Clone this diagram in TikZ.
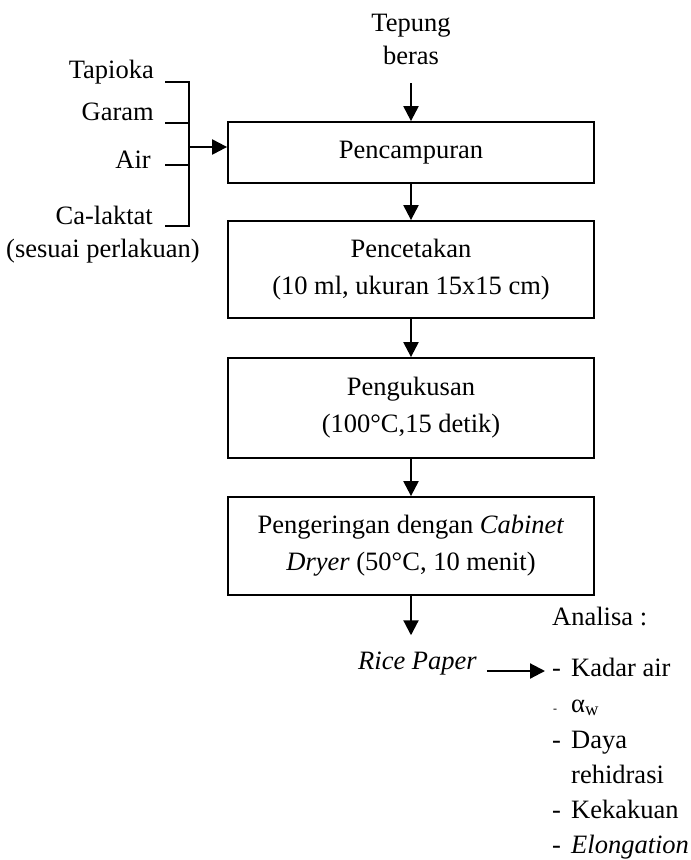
\documentclass[tikz,border=0pt]{standalone}
\usepackage{fontspec}
\setmainfont{Liberation Serif}
\usetikzlibrary{arrows.meta,positioning}

\tikzset{
  stepbox/.style={draw, line width=1.8pt, minimum width=366pt, inner sep=0pt, align=center},
  flow/.style={-{Triangle[length=15pt,width=15pt]}, line width=2.2pt},
  bracket/.style={line width=1.3pt},
  lbl/.style={inner sep=0pt},
}

\begin{document}
\begin{tikzpicture}[x=1pt,y=-1pt,font=\fontsize{26.5}{37}\selectfont]
        \useasboundingbox (0,0) rectangle (691,860);

        % process steps
        \node[stepbox, minimum height=61pt] (mix) at (411,152.5) {Pencampuran};
        \node[stepbox, minimum height=97pt] (mould) at (411,269.5) {Pencetakan\\(10 ml, ukuran 15x15 cm)};
        \node[stepbox, minimum height=100pt] (steam) at (411,408) {Pengukusan\\(100°C,15 detik)};
        \node[stepbox, minimum height=98pt] (dry) at (411,546) {Pengeringan dengan \textit{Cabinet}\\\textit{Dryer} (50°C, 10 menit)};
        \draw[flow] (mix) -- (mould);
        \draw[flow] (mould) -- (steam);
        \draw[flow] (steam) -- (dry);

        % rice flour input
        \node[lbl, align=center, anchor=north] (flour) at (411,14) {Tepung\\[-4pt]beras};
        \draw[flow] ([yshift=-18pt]flour.south) -- (mix.north);

        % other ingredients
        \node[lbl, anchor=base east] (tap) at (154,78) {Tapioka};
        \node[lbl, anchor=base east] (gar) at (154,120) {Garam};
        \node[lbl, anchor=base east] (air) at (151,168) {Air};
        \node[lbl, anchor=base east] (ca) at (153,224) {Ca-laktat};
        \node[lbl, anchor=base] (treat) at (103,257) {(sesuai perlakuan)};
        \coordinate (tapend) at (165,82);
        \coordinate (garend) at (165,123);
        \coordinate (airend) at (165,165);
        \coordinate (caend) at (165,226);
        \draw[bracket] (tapend) -- ++(24,0) |- (caend);
        \draw[bracket] (garend) -- ++(24,0);
        \draw[bracket] (airend) -- ++(24,0);
        \coordinate (feed) at (190,147);
        \draw[flow] (feed) -- (feed -| mix.west);

        % product
        \node[lbl, anchor=base] (rice) at (417.5,669) {\textit{Rice Paper}};
        \draw[flow] (dry.south) -- ([yshift=16pt]rice.north -| dry.south);

        % analyses
        \node[lbl, anchor=base west] (ana) at (552,625) {Analisa :};
        \node[lbl, anchor=base west] (kadar) at (552,676) {-};
        \node[lbl, anchor=base west] at (571,676) {Kadar air};
        \node[lbl, anchor=base west] (aw) at (553,712) {\fontsize{12}{12}\selectfont -};
        \node[lbl, anchor=base west] at (571,712) {α\textsubscript{w}};
        \node[lbl, anchor=base west] (daya) at (552,748) {-};
        \node[lbl, anchor=base west] at (571,748) {Daya};
        \node[lbl, anchor=base west] at (571,783) {rehidrasi};
        \node[lbl, anchor=base west] (keras) at (552,818) {-};
        \node[lbl, anchor=base west] at (571,818) {Kekakuan};
        \node[lbl, anchor=base west] (elong) at (552,853) {-};
        \node[lbl, anchor=base west] at (571,853) {\textit{Elongation}};
        \draw[flow] ([xshift=10pt,yshift=-2pt]rice.base east) -- ([xshift=-7pt,yshift=5pt]kadar.base west);
      \end{tikzpicture}
\end{document}
